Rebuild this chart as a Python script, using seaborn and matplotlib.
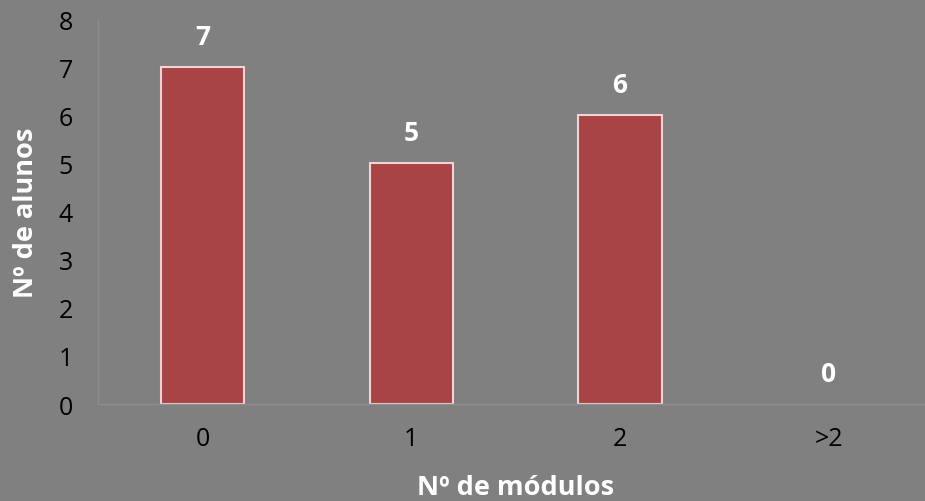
import matplotlib
matplotlib.use("Agg")
import matplotlib.pyplot as plt
import seaborn as sns
import pandas as pd
import numpy as np

categorias = ["0", "1", "2", ">2"]
alunos = [7, 5, 6, 0]

bg = "#808080"
bar_color = "#A84446"
edge_color = "#F2D2D2"
axis_color = "#8E8E8E"

sns.set_style("white")
plt.rcParams["font.family"] = ["Open Sans", "DejaVu Sans"]

df = pd.DataFrame({"modulos": categorias, "alunos": alunos})

fig = plt.figure(figsize=(9.25, 5.02), dpi=100, facecolor=bg)
ax = fig.add_axes([0.106, 0.193, 0.903, 0.767])
ax.set_facecolor(bg)

sns.barplot(data=df, x="modulos", y="alunos", color=bar_color, width=0.4,
            saturation=1, edgecolor=edge_color, linewidth=1.5, ax=ax)

for p, v in zip(ax.patches, alunos):
    if v == 0:
        p.set_edgecolor("none")
    ax.annotate(str(v), (p.get_x() + p.get_width() / 2, v),
                xytext=(0, 22), textcoords="offset points",
                ha="center", va="center", fontsize=19, fontweight="bold",
                color="white")

ax.set_ylim(0, 8)
ax.set_xlim(-0.5, 3.5)
ax.set_yticks(range(0, 9))

ax.set_xticks(np.arange(-0.5, 4, 1), minor=True)
ax.tick_params(axis="x", which="major", length=0, pad=16, labelsize=18, colors="black")
ax.tick_params(axis="x", which="minor", length=6, width=1, color=axis_color, direction="out")
ax.tick_params(axis="y", which="major", length=6, width=1, color=axis_color,
               direction="out", labelsize=18, labelcolor="black", pad=12)

for s in ["top", "right"]:
    ax.spines[s].set_visible(False)
for s in ["left", "bottom"]:
    ax.spines[s].set_color(axis_color)
    ax.spines[s].set_linewidth(1)

ax.set_xlabel("Nº de módulos", fontsize=19.5, fontweight="bold", color="white", labelpad=16)
ax.set_ylabel("Nº de alunos", fontsize=19.5, fontweight="bold", color="white", labelpad=14)

fig.savefig("out.png", dpi=100, facecolor=bg)
